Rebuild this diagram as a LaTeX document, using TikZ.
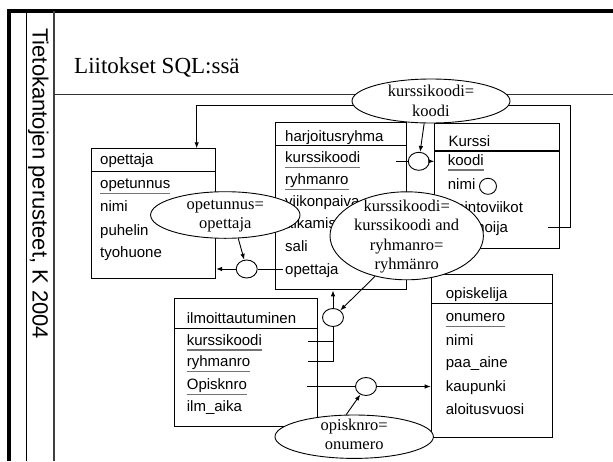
\documentclass[tikz,border=0pt]{standalone}
\usepackage{fontspec}
\setmainfont{Liberation Serif}
\newfontfamily\arialf{Liberation Sans}
\usetikzlibrary{shapes.geometric,arrows.meta,calc}
\begin{document}
\begin{tikzpicture}[x=1pt,y=-1pt,
  tbl/.style={draw=black,line width=1.1pt,inner sep=0,anchor=north west},
  sepl/.style={line width=1.1pt},
  attr/.style={font=\arialf\fontsize{15}{18}\selectfont,anchor=base west,inner sep=0},
  ul/.style={draw=black!55,line width=1.2pt},
  cond/.style={ellipse,draw,line width=0.9pt,fill=white,inner sep=0},
  condtext/.style={inner sep=0,align=center,font=\fontsize{16.5}{19.5}\selectfont},
  jn/.style={ellipse,draw,line width=0.9pt,fill=white,inner sep=0,minimum width=21pt,minimum height=18pt},
  ln/.style={line width=0.9pt},
  arr/.style={ln,-{Latex[length=6pt,width=4.5pt]}}
]
\useasboundingbox (0,0) rectangle (613,461);
% frame
\draw[line width=3.5pt,line join=miter] (9,461) -- (9,11) -- (613,11);
\draw[line width=1pt] (26,11) -- (26,461);
\draw[line width=1.2pt,black!75] (54,11) -- (54,461);
\draw[line width=1.2pt,black!80] (54,94.5) -- (613,94.5);
\node[rotate=-90,anchor=west,inner sep=0,font=\arialf\fontsize{22}{26}\selectfont] (side) at (38.3,28) {Tietokantojen perusteet, K 2004};
\node[anchor=base west,inner sep=0,font=\fontsize{23}{28}\selectfont] (title) at (74,73) {Liitokset SQL:ssä};

% opettaja
\node[tbl,minimum width=124.3pt,minimum height=130pt] (opettaja) at (90.7,148.3) {};
\draw[sepl] (90.7,171.7) -- (215,171.7);
\node[attr] (op-h) at (100,164) {opettaja};
\node[attr] (op-1) at (100,188.3) {opetunnus};
\node[attr] (op-2) at (100,211.7) {nimi};
\node[attr] (op-3) at (100,235) {puhelin};
\node[attr] (op-4) at (100,257.7) {tyohuone};
\draw[ul] ([yshift=-5pt]op-1.base west) -- ([yshift=-5pt]op-1.base east);

% harjoitusryhma
\node[tbl,minimum width=130.7pt,minimum height=167.6pt] (harj) at (275,121.7) {};
\draw[sepl] (275,145.7) -- (405.7,145.7);
\node[attr] (hr-h) at (285,141.7) {harjoitusryhma};
\node[attr] (hr-1) at (285,162.7) {kurssikoodi};
\node[attr] (hr-2) at (285,184.3) {ryhmanro};
\node[attr] (hr-3) at (285,206.5) {viikonpaiva};
\node[attr] (hr-4) at (285,228.5) {alkamisaika};
\node[attr] (hr-5) at (285,251) {sali};
\node[attr] (hr-6) at (285,274.3) {opettaja};
\draw[ul] ([yshift=-5pt]hr-1.base west) -- ([yshift=-5pt]hr-1.base east);
\draw[ul] ([yshift=-5pt]hr-2.base west) -- ([yshift=-5pt]hr-2.base east);

% Kurssi
\node[tbl,minimum width=125pt,minimum height=125.6pt] (kurssi) at (434.3,122.7) {};
\draw[sepl] (434.3,151) -- (559.3,151);
\node[attr] (ku-h) at (448.3,146) {Kurssi};
\node[attr] (ku-1) at (447.7,165) {koodi};
\node[attr] (ku-2) at (447.7,189.3) {nimi};
\node[attr] (ku-3) at (447.7,212.7) {opintoviikot};
\node[attr] (ku-4) at (447.7,232.7) {luennoija};
\draw[ul] ([yshift=-5pt]ku-1.base west) -- ([yshift=-5pt]ku-1.base east);

% ilmoittautuminen
\node[tbl,minimum width=142.7pt,minimum height=127.4pt] (ilmo) at (174,298.3) {};
\draw[sepl] (174,328.3) -- (316.7,328.3);
\node[attr] (il-h) at (186.7,323.3) {ilmoittautuminen};
\node[attr] (il-1) at (186.7,345) {kurssikoodi};
\node[attr] (il-2) at (186.7,366.7) {ryhmanro};
\node[attr] (il-3) at (186.7,389.3) {Opisknro};
\node[attr] (il-4) at (186.7,411) {ilm\_aika};
\draw[ul] ([yshift=-5pt]il-1.base west) -- ([yshift=-5pt]il-1.base east);
\draw[ul] ([yshift=-5pt]il-2.base west) -- ([yshift=-5pt]il-2.base east);
\draw[ul] ([yshift=-5pt]il-3.base west) -- ([yshift=-5pt]il-3.base east);

% opiskelija
\node[tbl,minimum width=121.6pt,minimum height=162.4pt] (opisk) at (430.7,274.3) {};
\draw[sepl] (430.7,303.3) -- (552.3,303.3);
\node[attr] (os-h) at (445.7,298.3) {opiskelija};
\node[attr] (os-1) at (445.7,321.7) {onumero};
\node[attr] (os-2) at (445.7,345) {nimi};
\node[attr] (os-3) at (445.7,367.7) {paa\_aine};
\node[attr] (os-4) at (445.7,391) {kaupunki};
\node[attr] (os-5) at (445.7,414) {aloitusvuosi};
\draw[ul] ([yshift=-5pt]os-1.base west) -- ([yshift=-5pt]os-1.base east);

% join circles
\node[jn] (c1) at (246.7,269) {};
\node[jn] (c2) at (418.8,161.3) {};
\node[jn,minimum width=17pt,minimum height=16pt] (c3) at (488,186.3) {};
\node[jn] (c4) at (333,317.5) {};
\node[jn] (c5) at (366,386.5) {};

% connectors
\coordinate (kp) at (547.7,227.7);
\coordinate (rt) at (570,105.7);
\coordinate (optop) at (196.7,148.3);
\draw[arr] (kp) -| (rt) -| (optop);

\coordinate (hop) at (283,269);
\draw[ln] (c1) -- (hop);
\draw[arr] (c1) -- (c1 -| opettaja.east);

\coordinate (hk) at (396,161.3);
\draw[ln] (hk) -- (c2);
\draw[arr] (c2) -- (c2 -| kurssi.west);

\coordinate (ik) at (308.3,341);
\coordinate (ir) at (308.3,361.5);
\draw[ln] (ik) -- (ik -| c4);
\draw[ln] (ir) -| (c4);
\draw[arr] (c4) -- (c4 |- harj.south);

\coordinate (io) at (306.7,386.5);
\draw[ln] (io) -- (c5);
\draw[arr] (c5) -- (c5 -| opisk.west);

% condition ellipses
\node[cond,minimum width=158pt,minimum height=44pt] (e1) at (431,101) {};
\node[condtext] (e1-t) at (431,101) {kurssikoodi=\\koodi};
\node[cond,minimum width=149.4pt,minimum height=46.6pt] (eop) at (225.3,215) {};
\node[condtext] (eop-t) at (225.3,216) {opetunnus=\\opettaja};
\node[cond,minimum width=153.4pt,minimum height=88pt] (eb) at (406.7,235.8) {};
\node[condtext] (eb-t) at (406.7,236.5) {kurssikoodi=\\kurssikoodi and\\ryhmanro=\\ryhmänro};
\node[cond,minimum width=158.4pt,minimum height=43.4pt] (eon) at (354.2,436.7) {};
\node[condtext] (eon-t) at (354.2,434.5) {opisknro=\\onumero};

\draw[arr] (eop.-61) -- (c1);
\draw[arr] (e1.-107) -- (c2);
\draw[arr] (eb.-128) -- (c4);
\draw[arr] (eon.110) -- (c5);
\end{tikzpicture}
\end{document}
